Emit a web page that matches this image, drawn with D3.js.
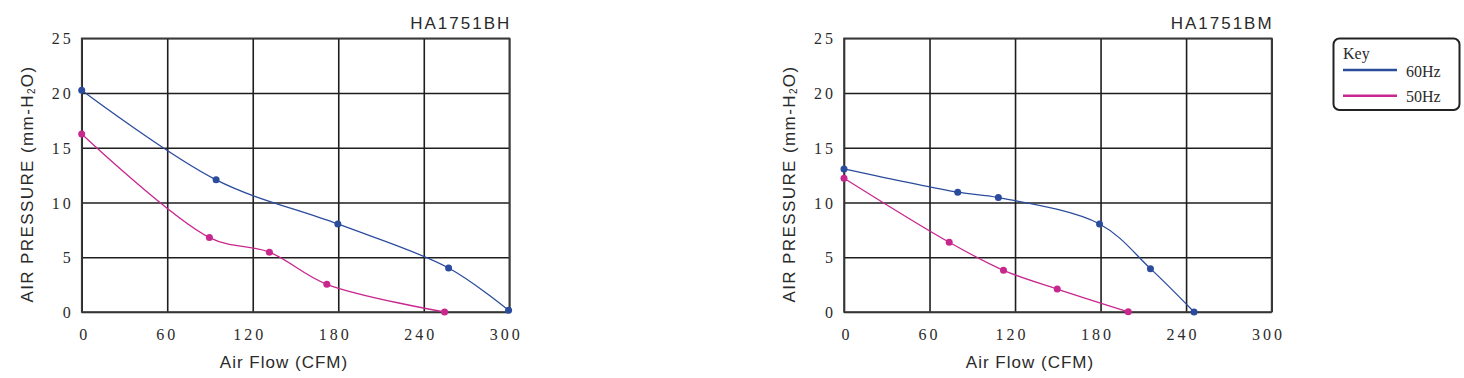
<!DOCTYPE html>
<html>
<head>
<meta charset="utf-8">
<script src="https://cdn.jsdelivr.net/npm/d3@7"></script>
<style>
  body { margin: 0; background: #fff; }
</style>
</head>
<body>
<div id="chart"></div>
<script>
// values
var airflowTicks = [0, 60, 120, 180, 240, 300];
var pressureTicks = [0, 5, 10, 15, 20, 25];
var modelNames = ["HA1751BH", "HA1751BM"];
var seriesNames = ["60Hz", "50Hz"];
var seriesColors = ["#2b4c9c", "#c8278e"];

var bh60Flow = [0, 94.3, 179.7, 257.4, 299.5];
var bh60Pressure = [20.25, 12.07, 8.04, 4.02, 0.15];
var bh50Flow = [0, 89.6, 131.7, 172, 254.6];
var bh50Pressure = [16.25, 6.8, 5.46, 2.53, 0];

var bm60Flow = [0, 79.8, 108.3, 179.3, 215, 245.6];
var bm60Pressure = [13.07, 10.94, 10.45, 8.04, 3.96, 0];
var bm50Flow = [0, 73.8, 111.9, 149.6, 199.4];
var bm50Pressure = [12.22, 6.37, 3.81, 2.1, 0.02];

var W = 1464, H = 378;
var plotW = 427.6, plotH = 273.7, plotTop = 38.3;
var sansFont = "'Liberation Sans', Arial, sans-serif";
var serifFont = "'Liberation Serif', 'Times New Roman', serif";
var gridColor = "#1e1e1e";
var textColor = "#2a2a2a";

var svg = d3.select("#chart")
       .append("svg")
       .attr("width", W)
       .attr("height", H);

function toPoints(flow, pressure) {
       return flow.map(function (f, i) { return { x: f, y: pressure[i] }; });
}

function drawPanel(left, title, series, xLabelCenter) {
       var g = svg.append("g")
              .attr("transform", "translate(" + left + "," + plotTop + ")");

       var x = d3.scaleLinear().domain([0, 300]).range([0, plotW]);
       var y = d3.scaleLinear().domain([0, 25]).range([plotH, 0]);

       // vertical grid + x tick labels
       var gx = g.append("g")
              .attr("transform", "translate(0," + plotH + ")")
              .call(d3.axisBottom(x).tickValues(airflowTicks).tickSize(-plotH).tickSizeOuter(0))
              .attr("font-family", serifFont)
              .attr("font-size", 16);
       gx.select(".domain").remove();
       gx.selectAll("line").attr("stroke", gridColor).attr("stroke-width", 1.6);
       // the original labels drift left as they get longer
       gx.selectAll("text")
              .attr("y", 28).attr("dy", null)
              .attr("x", function (d) { return 2.5 - 3 * (String(d).length - 1); })
              .attr("text-anchor", "middle")
              .attr("fill", textColor)
              .style("letter-spacing", "3px");

       // horizontal grid + y tick labels
       var gy = g.append("g")
              .call(d3.axisLeft(y).tickValues(pressureTicks).tickSize(-plotW).tickSizeOuter(0))
              .attr("font-family", serifFont)
              .attr("font-size", 16);
       gy.select(".domain").remove();
       gy.selectAll("line").attr("stroke", gridColor).attr("stroke-width", 1.6);
       gy.selectAll("text")
              .attr("x", -8)
              .attr("dy", "0.35em")
              .attr("fill", textColor)
              .style("letter-spacing", "3px");

       // frame
       g.append("rect")
              .attr("width", plotW)
              .attr("height", plotH)
              .attr("fill", "none")
              .attr("stroke", "#3a3a3a")
              .attr("stroke-width", 1.6);

       // title
       g.append("text")
              .attr("x", plotW + 2)
              .attr("y", -9)
              .attr("text-anchor", "end")
              .attr("font-family", sansFont)
              .attr("font-size", 17)
              .attr("fill", textColor)
              .style("letter-spacing", "2px")
              .text(title);

       // axis titles
       g.append("text")
              .attr("x", xLabelCenter - left)
              .attr("y", plotH + 56)
              .attr("text-anchor", "middle")
              .attr("font-family", sansFont)
              .attr("font-size", 17)
              .attr("fill", textColor)
              .style("letter-spacing", "1px")
              .text("Air Flow (CFM)");

       var yl = g.append("text")
              .attr("transform", "translate(-49," + (184 - plotTop) + ") rotate(-90)")
              .attr("text-anchor", "middle")
              .attr("font-family", sansFont)
              .attr("font-size", 17)
              .attr("fill", textColor)
              .style("letter-spacing", "1.4px");
       yl.append("tspan").text("AIR PRESSURE (mm-H");
       yl.append("tspan").attr("font-size", 10).attr("dy", 2).text("2");
       yl.append("tspan").attr("dy", -2).text("O)");

       var line = d3.line()
              .x(function (d) { return x(d.x); })
              .y(function (d) { return y(d.y); })
              .curve(d3.curveCatmullRom.alpha(0.5));

       series.forEach(function (pts, i) {
              g.append("path")
                     .datum(pts)
                     .attr("d", line)
                     .attr("fill", "none")
                     .attr("stroke", seriesColors[i])
                     .attr("stroke-width", 1.3);
              g.selectAll(".dot" + i)
                     .data(pts)
                     .enter()
                     .append("circle")
                     .attr("cx", function (d) { return x(d.x); })
                     .attr("cy", function (d) { return y(d.y); })
                     .attr("r", 3.5)
                     .attr("fill", seriesColors[i]);
       });
}

drawPanel(81.7, modelNames[0],
       [toPoints(bh60Flow, bh60Pressure), toPoints(bh50Flow, bh50Pressure)], 284);
drawPanel(844, modelNames[1],
       [toPoints(bm60Flow, bm60Pressure), toPoints(bm50Flow, bm50Pressure)], 1030);

// key box
var key = svg.append("g").attr("transform", "translate(1333.5,38.5)");
key.append("rect")
       .attr("width", 126)
       .attr("height", 71.5)
       .attr("rx", 6)
       .attr("fill", "#fff")
       .attr("stroke", "#222")
       .attr("stroke-width", 2);
key.append("text")
       .attr("x", 9.5)
       .attr("y", 20)
       .attr("font-family", serifFont)
       .attr("font-size", 16)
       .attr("fill", textColor)
       .text("Key");
seriesNames.forEach(function (name, i) {
       key.append("line")
              .attr("x1", 9.5).attr("x2", 63.5)
              .attr("y1", 31.5 + i * 25.7).attr("y2", 31.5 + i * 25.7)
              .attr("stroke", seriesColors[i])
              .attr("stroke-width", 2.4);
       key.append("text")
              .attr("x", 72.5)
              .attr("y", 38.2 + i * 25.7)
              .attr("font-family", serifFont)
              .attr("font-size", 16)
              .attr("fill", textColor)
              .text(name);
});
</script>
</body>
</html>
